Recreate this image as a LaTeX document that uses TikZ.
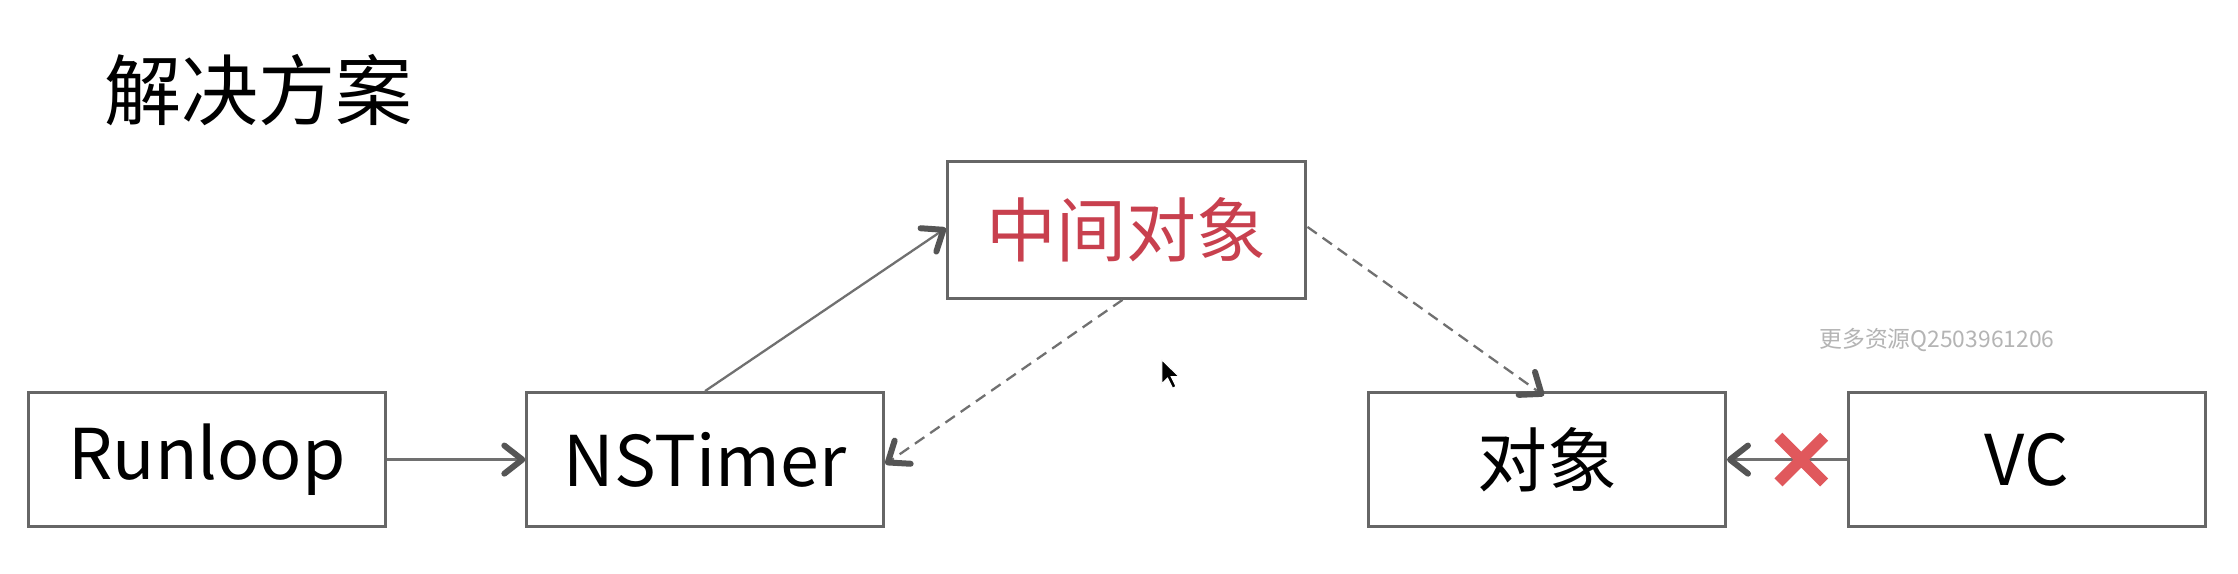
\documentclass[tikz,border=0pt]{standalone}
\usepackage{fontspec}
\setmainfont{Noto Sans CJK SC}
\usetikzlibrary{calc}
\definecolor{boxgray}{HTML}{666666}
\definecolor{linegray}{HTML}{707070}
\definecolor{headgray}{HTML}{555555}
\definecolor{midred}{HTML}{C8404E}
\definecolor{xred}{HTML}{E0585C}
\definecolor{wmgray}{HTML}{B4B4B4}
\tikzset{
  boxnode/.style={draw=boxgray, line width=2.1pt, minimum width=250pt, minimum height=94pt,
    inner sep=0pt, font=\fontsize{49}{55}\selectfont},
  conn/.style={draw=linegray, line width=1.6pt},
  dconn/.style={conn, dash pattern=on 8pt off 5pt},
  chev/.style={draw=headgray, line width=4.2pt, line cap=round, line join=round},
}
% chevron head at #2 pointing from #1
\newcommand{\chevhead}[2]{%
  \draw[chev] ($(#2)!16pt!38:(#1)$) -- (#2) -- ($(#2)!16pt!-38:(#1)$);}
\begin{document}
\begin{tikzpicture}[x=1pt,y=-1pt]
\useasboundingbox[fill=white] (0,0) rectangle (1568,402);
\node[anchor=center, font=\fontsize{54}{60}\selectfont] (title) at (181,63) {解决方案};
\node[boxnode] (run) at (145,322) {Runloop};
\node[boxnode] (nst) at (494,322) {NSTimer};
\node[boxnode, minimum width=251pt, minimum height=96pt, text=midred] (mid) at (789.5,161) {中间对象};
\node[boxnode] (obj) at (1084,322) {对象};
\node[boxnode] (vc) at (1420,322) {VC};
\node[text=wmgray, font=\fontsize{16}{18}\selectfont, inner sep=0pt] (wm) at (1357,238) {更多资源Q2503961206};
\coordinate (a1) at ([xshift=-2pt]nst.west);
\coordinate (a2) at ([xshift=-2pt]mid.west);
\coordinate (a3s) at ([xshift=-3pt]mid.south);
\coordinate (a3) at ([xshift=2pt,yshift=-2pt]nst.east);
\coordinate (a4s) at ([yshift=2pt]mid.east);
\coordinate (a4) at ([xshift=-4pt,yshift=-2pt]obj.north);
\coordinate (a5) at ([xshift=2pt]obj.east);
\draw[conn] (run.east) -- (a1);
\chevhead{run.east}{a1}
\draw[conn] (nst.north) -- (a2);
\chevhead{nst.north}{a2}
\draw[dconn] (a3s) -- (a3);
\chevhead{a3s}{a3}
\draw[dconn] (a4s) -- (a4);
\chevhead{a4s}{a4}
\draw[conn] (vc.west) -- (a5);
\chevhead{vc.west}{a5}
\coordinate (xm) at (1262,322);
\draw[xred, line width=8pt] ([shift={(-16,-16)}]xm) -- ([shift={(16,16)}]xm)
  ([shift={(16,-16)}]xm) -- ([shift={(-16,16)}]xm);
% mouse cursor
\coordinate (cur) at (814,252);
\fill[black, draw=white, line width=0.8pt] (cur) -- ++(0,17) -- ++(4,-4) -- ++(3.5,7) -- ++(2.5,-1.2) -- ++(-3.3,-6.8) -- ++(5.5,0) -- cycle;
\end{tikzpicture}
\end{document}
